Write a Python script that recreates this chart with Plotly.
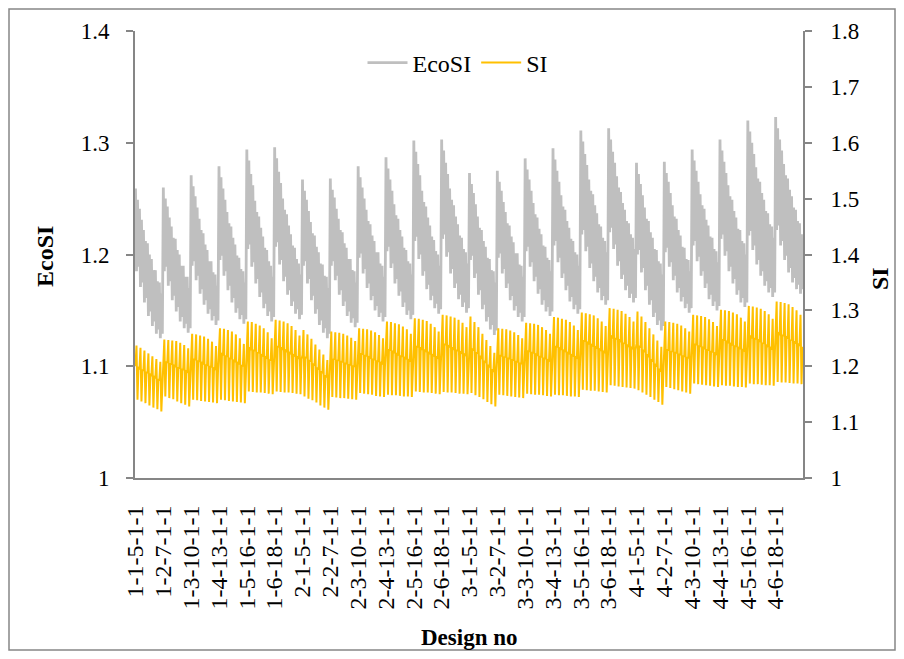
import plotly.graph_objects as go

# Design-number tick labels (one every design block)
TICK_LABELS = [
    "1-1-5-1-1", "1-2-7-1-1", "1-3-10-1-1", "1-4-13-1-1", "1-5-16-1-1", "1-6-18-1-1",
    "2-1-5-1-1", "2-2-7-1-1", "2-3-10-1-1", "2-4-13-1-1", "2-5-16-1-1", "2-6-18-1-1",
    "3-1-5-1-1", "3-2-7-1-1", "3-3-10-1-1", "3-4-13-1-1", "3-5-16-1-1", "3-6-18-1-1",
    "4-1-5-1-1", "4-2-7-1-1", "4-3-10-1-1", "4-4-13-1-1", "4-5-16-1-1", "4-6-18-1-1",
]

# EcoSI, read per sub-step (7 sub-steps per design block)
ECOSI_TOP = [
    1.259, 1.241, 1.222, 1.210, 1.196, 1.186, 1.175,
    1.260, 1.243, 1.225, 1.214, 1.200, 1.190, 1.180,
    1.271, 1.252, 1.232, 1.219, 1.204, 1.194, 1.182,
    1.279, 1.259, 1.238, 1.225, 1.209, 1.197, 1.185,
    1.294, 1.272, 1.248, 1.234, 1.216, 1.204, 1.190,
    1.296, 1.274, 1.250, 1.236, 1.218, 1.206, 1.192,
    1.267, 1.249, 1.229, 1.217, 1.202, 1.191, 1.180,
    1.268, 1.251, 1.232, 1.220, 1.206, 1.196, 1.185,
    1.279, 1.260, 1.240, 1.227, 1.212, 1.202, 1.190,
    1.287, 1.267, 1.245, 1.232, 1.216, 1.204, 1.192,
    1.302, 1.281, 1.257, 1.243, 1.226, 1.213, 1.200,
    1.303, 1.282, 1.259, 1.244, 1.227, 1.215, 1.202,
    1.273, 1.255, 1.234, 1.222, 1.207, 1.196, 1.185,
    1.275, 1.257, 1.238, 1.226, 1.211, 1.201, 1.190,
    1.286, 1.267, 1.246, 1.233, 1.218, 1.207, 1.195,
    1.295, 1.275, 1.253, 1.240, 1.224, 1.212, 1.200,
    1.311, 1.290, 1.267, 1.254, 1.237, 1.225, 1.212,
    1.313, 1.292, 1.270, 1.256, 1.240, 1.228, 1.215,
    1.282, 1.263, 1.242, 1.230, 1.215, 1.204, 1.192,
    1.283, 1.265, 1.244, 1.232, 1.217, 1.206, 1.195,
    1.294, 1.275, 1.254, 1.241, 1.226, 1.215, 1.203,
    1.303, 1.283, 1.262, 1.249, 1.233, 1.222, 1.210,
    1.320, 1.300, 1.278, 1.265, 1.249, 1.237, 1.225,
    1.323, 1.303, 1.281, 1.268, 1.252, 1.240, 1.228,
]
ECOSI_LOW = [
    1.185, 1.171, 1.157, 1.145, 1.136, 1.129, 1.125,
    1.185, 1.172, 1.159, 1.149, 1.140, 1.134, 1.130,
    1.190, 1.177, 1.165, 1.155, 1.147, 1.141, 1.137,
    1.195, 1.181, 1.168, 1.157, 1.148, 1.142, 1.138,
    1.205, 1.189, 1.174, 1.162, 1.152, 1.145, 1.140,
    1.207, 1.191, 1.176, 1.164, 1.154, 1.147, 1.142,
    1.190, 1.174, 1.159, 1.147, 1.137, 1.130, 1.125,
    1.190, 1.177, 1.164, 1.154, 1.145, 1.139, 1.135,
    1.197, 1.183, 1.170, 1.159, 1.150, 1.144, 1.140,
    1.203, 1.188, 1.174, 1.163, 1.153, 1.146, 1.142,
    1.212, 1.196, 1.181, 1.169, 1.159, 1.152, 1.147,
    1.214, 1.198, 1.183, 1.170, 1.160, 1.153, 1.148,
    1.195, 1.179, 1.164, 1.151, 1.140, 1.133, 1.128,
    1.197, 1.183, 1.170, 1.159, 1.150, 1.144, 1.140,
    1.203, 1.189, 1.176, 1.165, 1.155, 1.149, 1.145,
    1.208, 1.193, 1.179, 1.168, 1.158, 1.151, 1.147,
    1.218, 1.203, 1.188, 1.176, 1.166, 1.159, 1.155,
    1.220, 1.205, 1.190, 1.178, 1.168, 1.161, 1.157,
    1.200, 1.184, 1.168, 1.155, 1.144, 1.137, 1.132,
    1.202, 1.189, 1.177, 1.166, 1.158, 1.152, 1.148,
    1.208, 1.194, 1.181, 1.170, 1.160, 1.154, 1.150,
    1.214, 1.199, 1.185, 1.174, 1.164, 1.157, 1.153,
    1.217, 1.204, 1.191, 1.181, 1.172, 1.166, 1.162,
    1.222, 1.208, 1.195, 1.184, 1.175, 1.169, 1.165,
]
ECOSI_TOP2 = [
    1.249, 1.231, 1.212, 1.200, 1.186, 1.176, 1.165,
    1.250, 1.233, 1.215, 1.204, 1.190, 1.180, 1.170,
    1.261, 1.242, 1.222, 1.209, 1.194, 1.184, 1.172,
    1.269, 1.249, 1.228, 1.215, 1.199, 1.187, 1.175,
    1.284, 1.262, 1.238, 1.224, 1.206, 1.194, 1.180,
    1.286, 1.264, 1.240, 1.226, 1.208, 1.196, 1.182,
    1.257, 1.239, 1.219, 1.207, 1.192, 1.181, 1.170,
    1.258, 1.241, 1.222, 1.210, 1.196, 1.186, 1.175,
    1.269, 1.250, 1.230, 1.217, 1.202, 1.192, 1.180,
    1.277, 1.257, 1.235, 1.222, 1.206, 1.194, 1.182,
    1.292, 1.271, 1.247, 1.233, 1.216, 1.203, 1.190,
    1.293, 1.272, 1.249, 1.234, 1.217, 1.205, 1.192,
    1.263, 1.245, 1.224, 1.212, 1.197, 1.186, 1.175,
    1.265, 1.247, 1.228, 1.216, 1.201, 1.191, 1.180,
    1.276, 1.257, 1.236, 1.223, 1.208, 1.197, 1.185,
    1.285, 1.265, 1.243, 1.230, 1.214, 1.202, 1.190,
    1.301, 1.280, 1.257, 1.244, 1.227, 1.215, 1.202,
    1.303, 1.282, 1.260, 1.246, 1.230, 1.218, 1.205,
    1.272, 1.253, 1.232, 1.220, 1.205, 1.194, 1.182,
    1.273, 1.255, 1.234, 1.222, 1.207, 1.196, 1.185,
    1.284, 1.265, 1.244, 1.231, 1.216, 1.205, 1.193,
    1.293, 1.273, 1.252, 1.239, 1.223, 1.212, 1.200,
    1.310, 1.290, 1.268, 1.255, 1.239, 1.227, 1.215,
    1.313, 1.293, 1.271, 1.258, 1.242, 1.230, 1.218,
]
ECOSI_LOW2 = [
    1.189, 1.175, 1.161, 1.149, 1.140, 1.133, 1.129,
    1.189, 1.176, 1.163, 1.153, 1.144, 1.138, 1.134,
    1.194, 1.181, 1.169, 1.159, 1.151, 1.145, 1.141,
    1.199, 1.185, 1.172, 1.161, 1.152, 1.146, 1.142,
    1.209, 1.193, 1.178, 1.166, 1.156, 1.149, 1.144,
    1.211, 1.195, 1.180, 1.168, 1.158, 1.151, 1.146,
    1.194, 1.178, 1.163, 1.151, 1.141, 1.134, 1.129,
    1.194, 1.181, 1.168, 1.158, 1.149, 1.143, 1.139,
    1.201, 1.187, 1.174, 1.163, 1.154, 1.148, 1.144,
    1.207, 1.192, 1.178, 1.167, 1.157, 1.150, 1.146,
    1.216, 1.200, 1.185, 1.173, 1.163, 1.156, 1.151,
    1.218, 1.202, 1.187, 1.174, 1.164, 1.157, 1.152,
    1.199, 1.183, 1.168, 1.155, 1.144, 1.137, 1.132,
    1.201, 1.187, 1.174, 1.163, 1.154, 1.148, 1.144,
    1.207, 1.193, 1.180, 1.169, 1.159, 1.153, 1.149,
    1.212, 1.197, 1.183, 1.172, 1.162, 1.155, 1.151,
    1.222, 1.207, 1.192, 1.180, 1.170, 1.163, 1.159,
    1.224, 1.209, 1.194, 1.182, 1.172, 1.165, 1.161,
    1.204, 1.188, 1.172, 1.159, 1.148, 1.141, 1.136,
    1.206, 1.193, 1.181, 1.170, 1.162, 1.156, 1.152,
    1.212, 1.198, 1.185, 1.174, 1.164, 1.158, 1.154,
    1.218, 1.203, 1.189, 1.178, 1.168, 1.161, 1.157,
    1.221, 1.208, 1.195, 1.185, 1.176, 1.170, 1.166,
    1.226, 1.212, 1.199, 1.188, 1.179, 1.173, 1.169,
]

# SI, read per sub-step: middle level, bar top, bar bottom, middle level after the bar
SI_MID = [
    1.200, 1.196, 1.193, 1.188, 1.184, 1.180, 1.175,
    1.210, 1.207, 1.204, 1.200, 1.197, 1.194, 1.190,
    1.215, 1.212, 1.209, 1.205, 1.202, 1.199, 1.195,
    1.225, 1.221, 1.218, 1.213, 1.209, 1.205, 1.200,
    1.235, 1.231, 1.228, 1.223, 1.219, 1.215, 1.210,
    1.238, 1.235, 1.231, 1.227, 1.223, 1.219, 1.215,
    1.220, 1.214, 1.208, 1.201, 1.194, 1.187, 1.180,
    1.215, 1.213, 1.211, 1.208, 1.205, 1.203, 1.200,
    1.225, 1.222, 1.219, 1.215, 1.212, 1.209, 1.205,
    1.232, 1.229, 1.225, 1.221, 1.218, 1.214, 1.210,
    1.238, 1.235, 1.231, 1.227, 1.223, 1.219, 1.215,
    1.242, 1.239, 1.235, 1.231, 1.228, 1.224, 1.220,
    1.235, 1.228, 1.222, 1.213, 1.206, 1.198, 1.190,
    1.222, 1.219, 1.217, 1.214, 1.211, 1.208, 1.205,
    1.230, 1.227, 1.224, 1.220, 1.217, 1.214, 1.210,
    1.238, 1.235, 1.231, 1.227, 1.223, 1.219, 1.215,
    1.248, 1.245, 1.241, 1.237, 1.233, 1.229, 1.225,
    1.256, 1.252, 1.249, 1.245, 1.240, 1.236, 1.232,
    1.240, 1.233, 1.225, 1.216, 1.208, 1.199, 1.190,
    1.232, 1.229, 1.227, 1.224, 1.221, 1.218, 1.215,
    1.242, 1.239, 1.236, 1.232, 1.229, 1.226, 1.222,
    1.250, 1.247, 1.243, 1.239, 1.236, 1.232, 1.228,
    1.256, 1.252, 1.249, 1.245, 1.240, 1.236, 1.232,
    1.262, 1.258, 1.255, 1.251, 1.246, 1.242, 1.238,
]
SI_TOP = [
    1.237, 1.233, 1.228, 1.223, 1.218, 1.213, 1.208,
    1.248, 1.247, 1.246, 1.245, 1.242, 1.238, 1.232,
    1.258, 1.257, 1.255, 1.253, 1.249, 1.244, 1.236,
    1.268, 1.267, 1.265, 1.262, 1.257, 1.250, 1.240,
    1.280, 1.279, 1.276, 1.273, 1.268, 1.261, 1.250,
    1.283, 1.282, 1.280, 1.277, 1.272, 1.265, 1.255,
    1.265, 1.257, 1.249, 1.239, 1.230, 1.221, 1.211,
    1.262, 1.261, 1.260, 1.258, 1.255, 1.251, 1.245,
    1.268, 1.267, 1.266, 1.264, 1.261, 1.256, 1.250,
    1.280, 1.279, 1.277, 1.275, 1.271, 1.266, 1.258,
    1.286, 1.285, 1.283, 1.281, 1.276, 1.270, 1.262,
    1.292, 1.291, 1.289, 1.287, 1.283, 1.278, 1.270,
    1.289, 1.279, 1.270, 1.258, 1.247, 1.236, 1.224,
    1.268, 1.267, 1.266, 1.264, 1.261, 1.256, 1.250,
    1.278, 1.277, 1.276, 1.274, 1.270, 1.265, 1.258,
    1.288, 1.287, 1.285, 1.283, 1.279, 1.273, 1.265,
    1.296, 1.295, 1.293, 1.291, 1.286, 1.280, 1.272,
    1.304, 1.303, 1.301, 1.299, 1.294, 1.288, 1.280,
    1.298, 1.289, 1.279, 1.268, 1.257, 1.246, 1.235,
    1.280, 1.279, 1.278, 1.276, 1.273, 1.268, 1.262,
    1.292, 1.291, 1.290, 1.288, 1.284, 1.279, 1.272,
    1.301, 1.300, 1.299, 1.296, 1.293, 1.287, 1.280,
    1.308, 1.307, 1.305, 1.303, 1.299, 1.293, 1.285,
    1.316, 1.315, 1.313, 1.311, 1.306, 1.300, 1.292,
]
SI_LOW = [
    1.140, 1.137, 1.134, 1.130, 1.126, 1.123, 1.119,
    1.146, 1.143, 1.141, 1.137, 1.134, 1.131, 1.128,
    1.140, 1.139, 1.138, 1.137, 1.136, 1.135, 1.134,
    1.140, 1.139, 1.138, 1.137, 1.136, 1.135, 1.134,
    1.155, 1.154, 1.153, 1.153, 1.152, 1.151, 1.150,
    1.155, 1.154, 1.153, 1.153, 1.152, 1.151, 1.150,
    1.146, 1.142, 1.139, 1.135, 1.130, 1.126, 1.122,
    1.145, 1.144, 1.143, 1.143, 1.142, 1.141, 1.140,
    1.152, 1.151, 1.150, 1.149, 1.147, 1.146, 1.145,
    1.149, 1.148, 1.148, 1.147, 1.146, 1.146, 1.145,
    1.155, 1.154, 1.153, 1.153, 1.152, 1.151, 1.150,
    1.154, 1.153, 1.153, 1.152, 1.151, 1.151, 1.150,
    1.152, 1.148, 1.145, 1.141, 1.136, 1.132, 1.128,
    1.149, 1.148, 1.147, 1.146, 1.145, 1.144, 1.143,
    1.151, 1.150, 1.149, 1.149, 1.148, 1.147, 1.146,
    1.149, 1.148, 1.148, 1.147, 1.146, 1.146, 1.145,
    1.158, 1.157, 1.156, 1.156, 1.155, 1.154, 1.153,
    1.166, 1.165, 1.164, 1.163, 1.162, 1.161, 1.160,
    1.157, 1.153, 1.149, 1.145, 1.140, 1.136, 1.131,
    1.163, 1.161, 1.159, 1.157, 1.155, 1.153, 1.151,
    1.169, 1.168, 1.167, 1.166, 1.165, 1.164, 1.163,
    1.166, 1.165, 1.165, 1.164, 1.163, 1.163, 1.162,
    1.169, 1.168, 1.168, 1.167, 1.166, 1.166, 1.165,
    1.172, 1.171, 1.171, 1.170, 1.169, 1.169, 1.168,
]
SI_MID2 = [
    1.197, 1.193, 1.190, 1.185, 1.181, 1.177, 1.172,
    1.207, 1.204, 1.201, 1.197, 1.194, 1.191, 1.187,
    1.212, 1.209, 1.206, 1.202, 1.199, 1.196, 1.192,
    1.222, 1.218, 1.215, 1.210, 1.206, 1.202, 1.197,
    1.232, 1.228, 1.225, 1.220, 1.216, 1.212, 1.207,
    1.235, 1.232, 1.228, 1.224, 1.220, 1.216, 1.212,
    1.217, 1.211, 1.205, 1.198, 1.191, 1.184, 1.177,
    1.212, 1.210, 1.208, 1.205, 1.202, 1.200, 1.197,
    1.222, 1.219, 1.216, 1.212, 1.209, 1.206, 1.202,
    1.229, 1.226, 1.222, 1.218, 1.215, 1.211, 1.207,
    1.235, 1.232, 1.228, 1.224, 1.220, 1.216, 1.212,
    1.239, 1.236, 1.232, 1.228, 1.225, 1.221, 1.217,
    1.232, 1.225, 1.219, 1.210, 1.203, 1.195, 1.187,
    1.219, 1.216, 1.214, 1.211, 1.208, 1.205, 1.202,
    1.227, 1.224, 1.221, 1.217, 1.214, 1.211, 1.207,
    1.235, 1.232, 1.228, 1.224, 1.220, 1.216, 1.212,
    1.245, 1.242, 1.238, 1.234, 1.230, 1.226, 1.222,
    1.253, 1.249, 1.246, 1.242, 1.237, 1.233, 1.229,
    1.237, 1.230, 1.222, 1.213, 1.205, 1.196, 1.187,
    1.229, 1.226, 1.224, 1.221, 1.218, 1.215, 1.212,
    1.239, 1.236, 1.233, 1.229, 1.226, 1.223, 1.219,
    1.247, 1.244, 1.240, 1.236, 1.233, 1.229, 1.225,
    1.253, 1.249, 1.246, 1.242, 1.237, 1.233, 1.229,
    1.259, 1.255, 1.252, 1.248, 1.243, 1.239, 1.235,
]

# Build the ordered series (one value per design)
ecosi, si = [], []
for i in range(len(ECOSI_TOP)):
    ecosi += [ECOSI_TOP[i], ECOSI_LOW[i], ECOSI_TOP2[i], ECOSI_LOW2[i]]
    si += [SI_MID[i], SI_TOP[i], SI_LOW[i], SI_MID2[i]]
x = list(range(len(ecosi)))
per_block = len(ecosi) // len(TICK_LABELS)
tickvals = [k * per_block for k in range(len(TICK_LABELS))]

FONT = "Liberation Serif"
AXIS_COLOR = "#868686"

fig = go.Figure()
fig.add_trace(go.Scatter(x=x, y=ecosi, mode="lines", name="EcoSI",
                         line=dict(color="#BFBFBF", width=2.8)))
fig.add_trace(go.Scatter(x=x, y=si, mode="lines", name="SI", yaxis="y2",
                         line=dict(color="#FFC000", width=2.0)))

# page body has an 8px margin; figure coordinates = page coordinates - 8
OFF = 8
W, H = 888, 643
ml, mr, mt, mb = 127, 93, 23, 173
pw, ph = W - ml - mr, H - mt - mb


def px(page_x):
    return (page_x - OFF - ml) / pw


def py(page_y):
    return (H - mb - (page_y - OFF)) / ph


fig.update_layout(
    width=W, height=H,
    margin=dict(l=ml, r=mr, t=mt, b=mb, autoexpand=False),
    paper_bgcolor="white", plot_bgcolor="white",
    font=dict(family=FONT, size=23, color="black"),
    showlegend=True,
    legend=dict(orientation="h", x=px(458), xanchor="center", y=py(63), yanchor="middle",
                font=dict(family=FONT, size=24), bgcolor="rgba(0,0,0,0)",
                itemwidth=40),
    xaxis=dict(range=[-0.5, len(x) - 0.5], showgrid=False, zeroline=False,
               showline=True, linecolor=AXIS_COLOR, linewidth=2,
               tickmode="array", tickvals=tickvals, ticktext=TICK_LABELS,
               tickangle=-90, ticks="", ticklabelstandoff=16,
               tickfont=dict(family=FONT, size=24)),
    yaxis=dict(range=[1.0, 1.4], dtick=0.1, tickformat="~g", showgrid=False,
               zeroline=False, showline=True, linecolor=AXIS_COLOR, linewidth=2,
               ticks="outside", ticklen=7, tickwidth=2, tickcolor=AXIS_COLOR,
               ticklabelstandoff=12, tickfont=dict(family=FONT, size=23)),
    yaxis2=dict(range=[1.0, 1.8], dtick=0.1, tickformat="~g", overlaying="y",
                side="right", showgrid=False, zeroline=False, showline=True,
                linecolor=AXIS_COLOR, linewidth=2, ticks="outside", ticklen=7,
                tickwidth=2, tickcolor=AXIS_COLOR, ticklabelstandoff=14,
                tickfont=dict(family=FONT, size=23)),
    annotations=[
        dict(text="<b>EcoSI</b>", xref="paper", yref="paper", x=px(45), y=py(257),
             xanchor="center", yanchor="middle", showarrow=False, textangle=-90,
             font=dict(family=FONT, size=24)),
        dict(text="<b>SI</b>", xref="paper", yref="paper", x=px(880), y=py(279),
             xanchor="center", yanchor="middle", showarrow=False, textangle=-90,
             font=dict(family=FONT, size=24)),
        dict(text="<b>Design no</b>", xref="paper", yref="paper", x=px(469), y=py(637),
             xanchor="center", yanchor="middle", showarrow=False,
             font=dict(family=FONT, size=23)),
    ],
    shapes=[
        dict(type="rect", xref="paper", yref="paper", x0=px(9), x1=px(895),
             y0=py(650), y1=py(9), line=dict(color=AXIS_COLOR, width=1.5),
             fillcolor="rgba(0,0,0,0)", layer="below"),
    ],
)

fig.write_html("out.html")
